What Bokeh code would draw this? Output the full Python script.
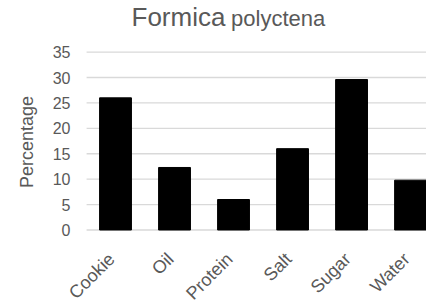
from bokeh.plotting import figure
from bokeh.models import Range1d, FixedTicker, Label, Title
from bokeh.core.properties import value
from bokeh.embed import file_html
from bokeh.resources import INLINE
import math

categories = ["Cookie", "Oil", "Protein", "Salt", "Sugar", "Water"]
percentages = [26.0, 12.3, 6.0, 16.0, 29.6, 9.8]
y_ticks = [0, 5, 10, 15, 20, 25, 30, 35]
title_main = "Formica"
title_sub = "polyctena"
y_title = "Percentage"

FONT = "Liberation Sans"
GREY = "#595959"
GRID = "#d9d9d9"

xs = list(range(len(categories)))
grid_start, grid_end = -0.49, 5.27   # horizontal extent of the plot area (in category units)

# frame spans the whole canvas height (and reaches left of the plot area) so the
# two-size title and the rotated category labels can be drawn inside it
p = figure(width=426, height=303, output_backend="svg", toolbar_location=None,
           x_range=Range1d(-1.0, grid_end), y_range=Range1d(-14.46, 45.15),
           min_border_left=56, min_border_right=0, min_border_top=0,
           min_border_bottom=0)

p.segment(x0=[grid_start] * len(y_ticks), x1=[grid_end] * len(y_ticks),
          y0=y_ticks, y1=y_ticks, line_color=GRID, line_width=1.3)
p.vbar(x=xs, top=percentages, width=0.54, fill_color="black", line_color="black")

p.outline_line_color = None
p.xgrid.visible = False
p.ygrid.visible = False
p.xaxis.visible = False
p.yaxis.ticker = FixedTicker(ticks=y_ticks)
p.yaxis.major_tick_line_color = None
p.yaxis.minor_tick_line_color = None
p.yaxis.major_tick_out = 0
p.yaxis.major_tick_in = 0
p.yaxis.axis_line_color = None
p.yaxis.major_label_text_font = FONT
p.yaxis.major_label_text_color = GREY
p.yaxis.major_label_text_font_size = "16px"
p.yaxis.major_label_standoff = -14

p.add_layout(Title(text=y_title, align="left", offset=115.5, standoff=25,
                   text_font=FONT, text_font_size="18px", text_font_style="normal",
                   text_color=GREY), "left")

# category labels under the bars
p.text(x=xs, y=[0] * len(xs), text=categories, angle=math.pi / 4,
       x_offset=-11, y_offset=19, text_align="right", text_baseline="top",
       text_font=value(FONT), text_font_size=value("18px"), text_color=GREY)

p.add_layout(Label(x=0.271, y=38.95, text=title_main,
                   text_font=FONT, text_font_size="26px", text_color=GREY,
                   text_baseline="bottom"))
p.add_layout(Label(x=1.958, y=39.11, text=title_sub,
                   text_font=FONT, text_font_size="22px", text_color=GREY,
                   text_baseline="bottom"))

open("out.html", "w").write(file_html(p, INLINE))
